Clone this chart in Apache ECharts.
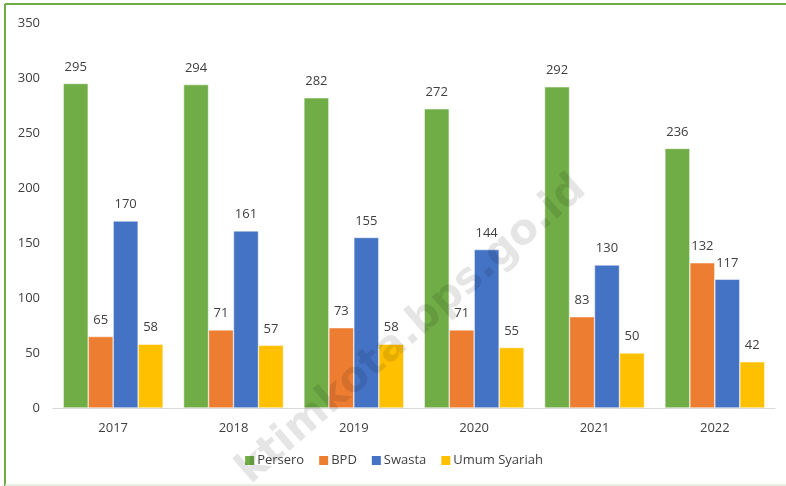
<!DOCTYPE html>
<html>
<head>
<meta charset="utf-8">
<script src="https://cdn.jsdelivr.net/npm/echarts@6/dist/echarts.min.js"></script>
<style>
html,body{margin:0;padding:0;background:#fff;}
#chart{width:786px;height:486px;}
</style>
</head>
<body>
<div id="chart"></div>
<script>
const categories = ['2017', '2018', '2019', '2020', '2021', '2022'];
const seriesNames = ['Persero', 'BPD', 'Swasta', 'Umum Syariah'];
const persero = [295, 294, 282, 272, 292, 236];
const bpd = [65, 71, 73, 71, 83, 132];
const swasta = [170, 161, 155, 144, 130, 117];
const umumSyariah = [58, 57, 58, 55, 50, 42];
const yTicks = [0, 50, 100, 150, 200, 250, 300, 350];
const watermarkText = 'ktimkota.bps.go.id';

const colors = ['#70AD47', '#ED7D31', '#4472C4', '#FFC000'];
const values = [persero, bpd, swasta, umumSyariah];
const font = 'Open Sans, sans-serif';

const chart = echarts.init(document.getElementById('chart'));
chart.setOption({
  animation: false,
  backgroundColor: '#fff',
  color: colors,
  grid: { left: 53, right: 11, top: 23, bottom: 78, containLabel: false },
  legend: {
    bottom: 14,
    left: 'center',
    itemWidth: 11,
    itemHeight: 11,
    itemGap: 13,
    icon: 'rect',
    textStyle: { fontFamily: font, fontSize: 13, color: '#404040', padding: [0, 0, 0, -3] },
    data: seriesNames
  },
  xAxis: {
    type: 'category',
    data: categories,
    axisLine: { lineStyle: { color: '#D9D9D9', width: 1 } },
    axisTick: { show: false },
    axisLabel: { fontFamily: font, fontSize: 13, color: '#404040', margin: 14 }
  },
  yAxis: {
    type: 'value',
    min: yTicks[0],
    max: yTicks[yTicks.length - 1],
    interval: 50,
    splitLine: { show: false },
    axisLine: { show: false },
    axisTick: { show: false },
    axisLabel: { fontFamily: font, fontSize: 13, color: '#404040', margin: 13 }
  },
  series: seriesNames.map((name, i) => ({
    name: name,
    type: 'bar',
    data: values[i],
    barGap: '0%',
    barCategoryGap: '17%',
    itemStyle: { color: colors[i], borderColor: '#fff', borderWidth: 0.5 },
    label: {
      show: true,
      position: 'top',
      distance: 10,
      fontFamily: font,
      fontSize: 13,
      color: '#404040'
    }
  })),
  graphic: [
    { type: 'line', shape: { x1: 5, y1: 4, x2: 786, y2: 4 }, style: { stroke: '#70AD47', lineWidth: 2 }, z: 100 },
    { type: 'line', shape: { x1: 5, y1: 4, x2: 5, y2: 486 }, style: { stroke: '#70AD47', lineWidth: 2 }, z: 100 },
    { type: 'line', shape: { x1: 5, y1: 485, x2: 786, y2: 485 }, style: { stroke: '#DDEBD5', lineWidth: 1.5 }, z: 100 },
    {
      type: 'text',
      x: 412,
      y: 330,
      rotation: 41 * Math.PI / 180,
      style: {
        text: watermarkText,
        fontFamily: 'DejaVu Sans, sans-serif',
        fontWeight: 'bold',
        fontSize: 42,
        fill: 'rgba(0,0,0,0.10)',
        align: 'center',
        verticalAlign: 'middle'
      },
      z: 200
    }
  ]
});
</script>
</body>
</html>
